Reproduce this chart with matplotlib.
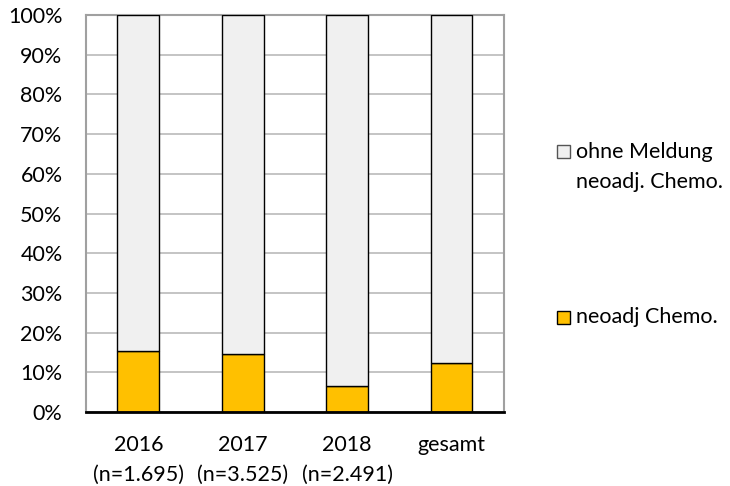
import matplotlib.pyplot as plt
from matplotlib.patches import Rectangle

plt.rcParams['font.family'] = ['Lato', 'DejaVu Sans']

years = ['2016\n(n=1.695)', '2017\n(n=3.525)', '2018\n(n=2.491)', 'gesamt']
neoadj = [15.4, 14.7, 6.5, 12.3]
ohne = [100 - v for v in neoadj]
y_ticks = list(range(0, 101, 10))
fs = 15.5

fig = plt.figure(figsize=(7.3, 4.86), dpi=100)
ax = fig.add_axes([0.118, 0.152, 0.572, 0.817])

x = range(len(years))
ax.bar(x, neoadj, width=0.4, color='#FFC000', edgecolor='black', linewidth=1, zorder=3)
ax.bar(x, ohne, width=0.4, bottom=neoadj, color='#F0F0F0', edgecolor='black',
       linewidth=1, zorder=3)

ax.set_xlim(-0.5, len(years) - 0.5)
ax.set_ylim(0, 100)
ax.set_yticks(y_ticks)
ax.set_yticklabels([f'{t}%' for t in y_ticks])
ax.set_xticks(list(x))
ax.set_xticklabels(years, linespacing=1.6, va='top')
ax.tick_params(axis='y', length=0, pad=17, labelsize=fs)
ax.tick_params(axis='x', length=0, pad=16.5, labelsize=fs)
ax.yaxis.grid(True, color='#BFBFBF', linewidth=1.3, zorder=0)

for side in ['left', 'top', 'right']:
    ax.spines[side].set_color('#A0A0A0')
    ax.spines[side].set_linewidth(1.5)
ax.spines['bottom'].set_color('black')
ax.spines['bottom'].set_linewidth(2)
ax.spines['bottom'].set_zorder(4)

# legend drawn by hand so the entries sit far apart
def px_y(y):
    return 1 - y / 486

fig.text(576 / 730, px_y(151.5), 'ohne Meldung', fontsize=fs, va='center', ha='left')
fig.text(576 / 730, px_y(181.5), 'neoadj. Chemo.', fontsize=fs, va='center', ha='left')
fig.patches.append(Rectangle((556.5 / 730, px_y(158)), 13.5 / 730, 13 / 486,
                             transform=fig.transFigure, facecolor='#F0F0F0',
                             edgecolor='#555555', linewidth=1))
fig.text(576 / 730, px_y(317), 'neoadj Chemo.', fontsize=fs, va='center', ha='left')
fig.patches.append(Rectangle((556.5 / 730, px_y(324)), 13.5 / 730, 13 / 486,
                             transform=fig.transFigure, facecolor='#FFC000',
                             edgecolor='black', linewidth=1))

fig.savefig('out.png', dpi=100)
